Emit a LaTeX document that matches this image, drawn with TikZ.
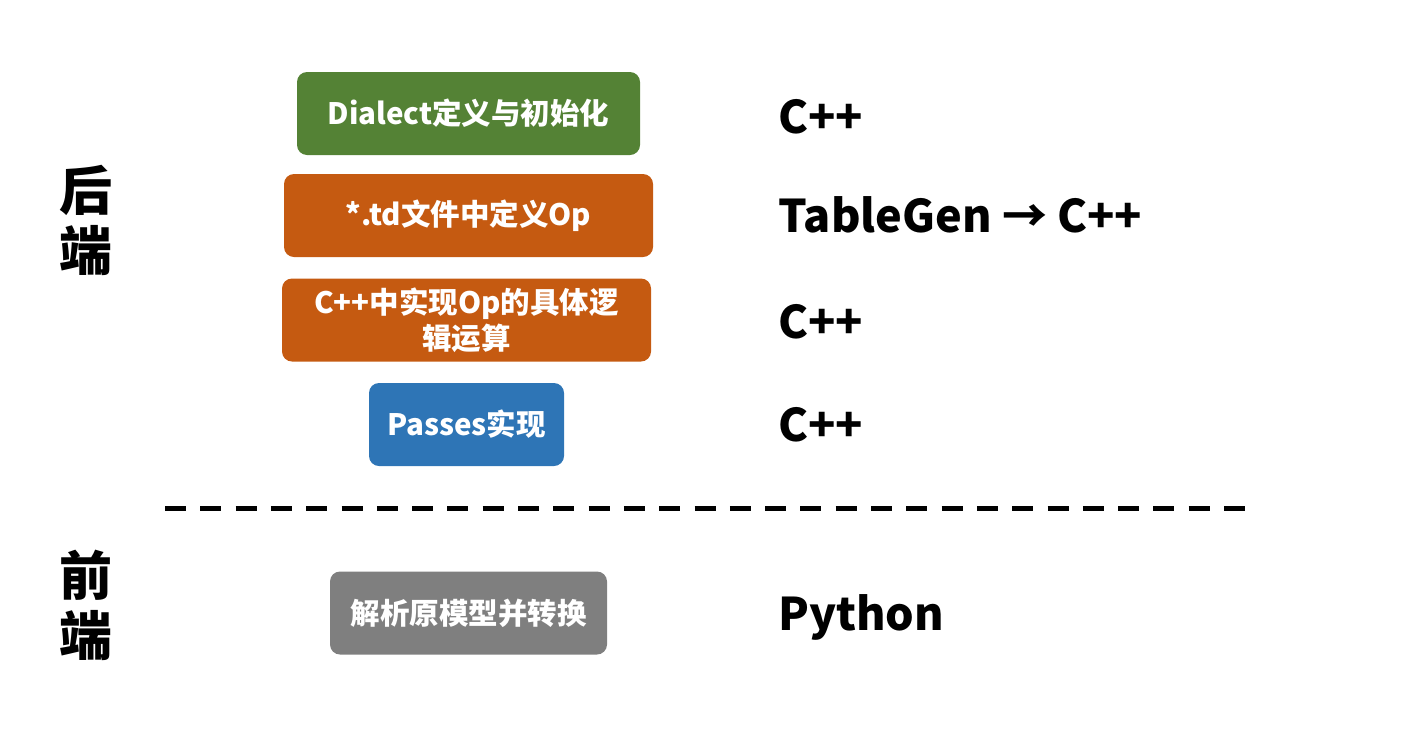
\documentclass[tikz,border=0pt]{standalone}
\usepackage{fontspec}
\setmainfont{Noto Sans CJK SC}
\usepackage{tikz}
\usetikzlibrary{positioning}
\definecolor{DialectGreen}{HTML}{548235}
\definecolor{OpOrange}{HTML}{C55A11}
\definecolor{PassBlue}{HTML}{2E75B6}
\definecolor{FrontGray}{HTML}{7F7F7F}

\begin{document}
\begin{tikzpicture}[
  x=1pt,y=-1pt,
  box/.style={rounded corners=10pt,text=white,align=center,minimum height=83pt,inner sep=0pt,font=\bfseries\fontsize{29.5}{36}\selectfont},
  lang/.style={anchor=west,inner sep=0pt,font=\bfseries\fontsize{45}{52}\selectfont},
  side/.style={align=center,inner sep=0pt,font=\bfseries\fontsize{53}{60}\selectfont},
  sep/.style={line width=5pt,dash pattern=on 21pt off 14.3pt}
]
\useasboundingbox (0,0) rectangle (1404,737);

% back end
\node[box,fill=DialectGreen,minimum width=343pt] (dialect) at (468.5,113.5) {Dialect定义与初始化};
\node[box,fill=OpOrange,minimum width=369pt] (tdop) at (468.5,215.5) {*.td文件中定义Op};
\node[box,fill=OpOrange,minimum width=369pt] (cppop) at (466.5,320) {C++中实现Op的具体逻\\辑运算};
\node[box,fill=PassBlue,minimum width=195pt] (passes) at (466.5,424.5) {Passes实现};

% front end
\node[box,fill=FrontGray,minimum width=277pt] (parse) at (468.5,613) {解析原模型并转换};

% languages
\node[lang] (langdialect) at (778,117) {C++};
\node[lang] (langtd) at (778,215) {TableGen → C++};
\node[lang] (langcppop) at (778,322) {C++};
\node[lang] (langpasses) at (778,425) {C++};
\node[lang] (langparse) at (778,617) {Python};

\node[side] (backend) at (86,220) {后\\端};
\node[side] (frontend) at (86,605) {前\\端};

\coordinate (sepL) at (165,508);
\coordinate (sepR) at (1245,508);
\draw[sep] (sepL) -- (sepR);
\end{tikzpicture}
\end{document}
